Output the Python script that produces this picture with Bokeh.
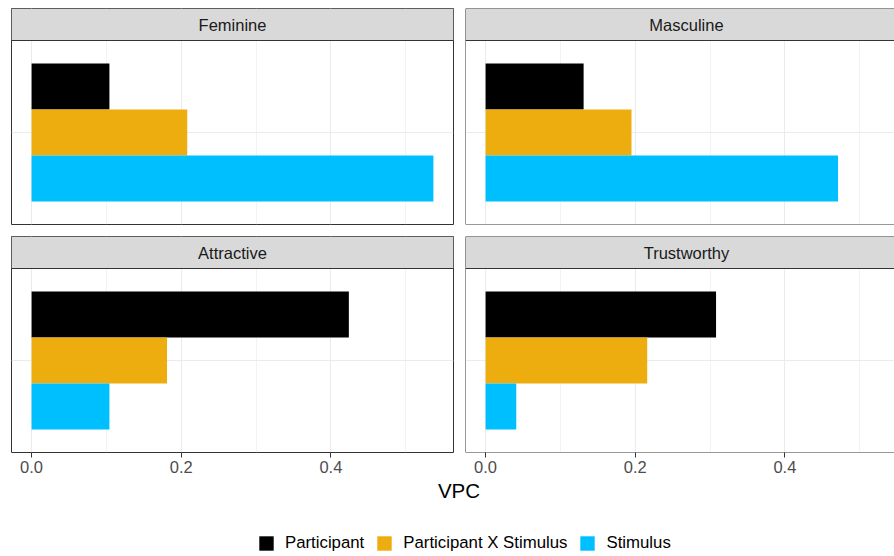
from bokeh.plotting import figure
from bokeh.models import (ColumnDataSource, FixedTicker, NumeralTickFormatter, BoxAnnotation,
                          Label, Span, Legend, LegendItem)
from bokeh.layouts import column, row
from bokeh.embed import file_html
from bokeh.resources import INLINE

# ---------------- data ----------------
traits = ["Feminine", "Masculine", "Attractive", "Trustworthy"]
components = ["Participant", "Participant X Stimulus", "Stimulus"]
participant = [0.104, 0.131, 0.424, 0.308]
participant_x_stimulus = [0.208, 0.195, 0.181, 0.216]
stimulus = [0.537, 0.471, 0.104, 0.041]
component_colors = ["#000000", "#EEAD0E", "#00BFFF"]
x_ticks = [0.0, 0.2, 0.4]
x_minor_ticks = [0.1, 0.3, 0.5]
x_title = "VPC"

series = [participant, participant_x_stimulus, stimulus]

# ---------------- style ----------------
FONT = "Liberation Sans"
GRID = "#EBEBEB"
BORDER = "#333333"
STRIP_FILL = "#D9D9D9"

PAGE_W, PAGE_H = 894, 556
LEFT_PAD, TOP_PAD = 11, 8
LEFT_W = 442
GAP = 12
RIGHT_W = PAGE_W - (LEFT_PAD + LEFT_W + GAP)
PANEL_H, STRIP_H = 184, 32
AXIS_H = 27

xmax = max(max(s) for s in series)
pad = 0.05 * xmax
x_left = (-pad, xmax + pad)
px_per_unit = LEFT_W / (x_left[1] - x_left[0])
x_right = (-pad, -pad + RIGHT_W / px_per_unit)

n = len(components)
dodge = 0.9 / n
y_lo, y_hi = 0.4, 1.6
strip_units = (y_hi - y_lo) * STRIP_H / PANEL_H
y_top = y_hi + strip_units


def make_panel(k, col, bottom):
    xr = x_left if col == 0 else x_right
    width = (LEFT_PAD + LEFT_W + GAP) if col == 0 else RIGHT_W
    top_b = 0 if bottom else TOP_PAD
    bot_b = AXIS_H if bottom else GAP
    height = top_b + PANEL_H + STRIP_H + bot_b
    p = figure(width=width, height=height, x_range=xr, y_range=(y_lo, y_top),
               toolbar_location=None, output_backend="svg", title=None,
               x_axis_location="below" if bottom else None, y_axis_location=None,
               min_border_left=LEFT_PAD if col == 0 else 0,
               min_border_right=GAP if col == 0 else 0,
               min_border_top=top_b,
               min_border_bottom=bot_b)
    p.background_fill_color = "white"
    p.border_fill_color = "white"

    # grids
    p.xgrid.ticker = FixedTicker(ticks=x_ticks, minor_ticks=x_minor_ticks)
    p.xgrid.grid_line_color = GRID
    p.xgrid.grid_line_width = 1.1
    p.xgrid.minor_grid_line_color = GRID
    p.xgrid.minor_grid_line_width = 0.6
    p.ygrid.ticker = FixedTicker(ticks=[1])
    p.ygrid.grid_line_color = GRID
    p.ygrid.grid_line_width = 1.1

    # bars
    src = ColumnDataSource(dict(
        y=[1 + ((n - 1) / 2 - i) * dodge for i in range(n)],
        right=[series[i][k] for i in range(n)],
        color=component_colors,
    ))
    p.hbar(y="y", left=0, right="right", height=dodge, source=src,
           fill_color="color", line_color=None)

    # strip
    p.add_layout(BoxAnnotation(bottom=y_hi, fill_color=STRIP_FILL, fill_alpha=1,
                               line_color=None))
    p.add_layout(Span(location=y_hi, dimension="width", line_color=BORDER, line_width=1))
    p.add_layout(Label(x=xmax / 2, y=y_hi + strip_units / 2, text=traits[k],
                       text_align="center", text_baseline="middle",
                       text_font=FONT, text_font_size="16.5px", text_color="#1A1A1A"))

    # borders
    if col == 0:
        p.outline_line_color = BORDER
        p.outline_line_width = 1
        p.outline_line_alpha = 1
    else:
        p.outline_line_color = None
        p.add_layout(Span(location=xr[0], dimension="height", line_color=BORDER, line_width=1))
        p.add_layout(Span(location=y_lo, dimension="width", line_color=BORDER, line_width=1))
        p.add_layout(Span(location=y_top, dimension="width", line_color=BORDER, line_width=1))

    if bottom:
        ax = p.xaxis[0]
        ax.ticker = FixedTicker(ticks=x_ticks, minor_ticks=x_minor_ticks)
        ax.formatter = NumeralTickFormatter(format="0.0")
        ax.axis_line_color = None
        ax.major_tick_line_color = BORDER
        ax.major_tick_out = 5
        ax.major_tick_in = 0
        ax.minor_tick_line_color = None
        ax.major_label_standoff = 3
        ax.major_label_text_font = FONT
        ax.major_label_text_font_size = "16.5px"
        ax.major_label_text_color = "#4D4D4D"
    return p


p_tl = make_panel(0, 0, False)
p_tr = make_panel(1, 1, False)
p_bl = make_panel(2, 0, True)
p_br = make_panel(3, 1, True)

used_h = (TOP_PAD + STRIP_H + PANEL_H + GAP) + (STRIP_H + PANEL_H + AXIS_H)
LEG_H = PAGE_H - used_h
leg = figure(width=PAGE_W, height=LEG_H, x_range=(0, PAGE_W), y_range=(0, LEG_H),
             toolbar_location=None, output_backend="svg", title=None,
             x_axis_location=None, y_axis_location=None, min_border=0)
leg.outline_line_color = None
leg.grid.visible = False

nan = float("nan")
items = []
for comp, c in zip(components, component_colors):
    r = leg.quad(left=[nan], right=[nan], top=[nan], bottom=[nan],
                 fill_color=c, line_color=None)
    items.append(LegendItem(label=comp, renderers=[r]))

legend = Legend(items=items, orientation="horizontal", location=(257, 3),
                glyph_width=18, glyph_height=18, label_height=18,
                label_standoff=10, spacing=11, padding=0, margin=0,
                border_line_color=None, background_fill_alpha=0,
                label_text_font=FONT, label_text_font_size="16.8px",
                label_text_color="#000000")
leg.add_layout(legend)

leg.add_layout(Label(x=458.5, y=PAGE_H - 490, text=x_title, text_align="center",
                     text_baseline="middle", text_font=FONT, text_font_size="20.5px",
                     text_color="#000000"))

layout = column(row(p_tl, p_tr), row(p_bl, p_br), leg)

open("out.html", "w").write(file_html(layout, INLINE))
